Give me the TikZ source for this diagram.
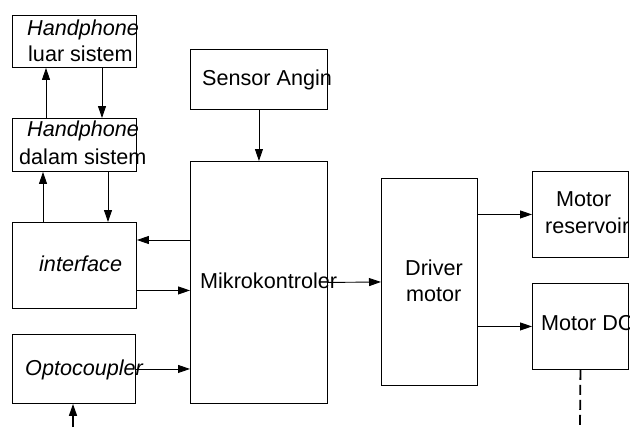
\documentclass[tikz,border=0pt]{standalone}
\usepackage{fontspec}
\setmainfont{Liberation Sans}
\usetikzlibrary{arrows.meta}
\begin{document}
\begin{tikzpicture}[x=1bp,y=-1bp,
 box/.style={draw=black, line width=0.9bp, inner sep=0pt, anchor=north west},
 lbl/.style={inner sep=0pt, anchor=base west, font=\fontsize{21.6bp}{26bp}\selectfont},
 ilbl/.style={inner sep=0pt, anchor=base west, font=\fontsize{21.6bp}{26bp}\selectfont\itshape},
 arr/.style={line width=0.9bp, -{Triangle[length=12bp,width=8bp]}},
 dashline/.style={line width=1.8bp, dash pattern=on 10bp off 5bp},
]
\useasboundingbox (0,0) rectangle (630,427);
% boxes
\node[box, minimum width=124bp, minimum height=52bp] (luar) at (12,15) {};
\node[box, minimum width=124bp, minimum height=53bp] (dalam) at (12,118) {};
\node[box, minimum width=124bp, minimum height=86bp] (iface) at (12,222) {};
\node[box, minimum width=123bp, minimum height=69bp] (opto) at (12,334) {};
\node[box, minimum width=137bp, minimum height=60bp] (sensor) at (190,49) {};
\node[box, minimum width=137bp, minimum height=242bp] (mikro) at (190,161) {};
\node[box, minimum width=96bp, minimum height=207bp] (driver) at (381,178) {};
\node[box, minimum width=96bp, minimum height=86bp] (resv) at (532,171) {};
\node[box, minimum width=96bp, minimum height=86bp] (dc) at (532,283) {};
% texts
\node[ilbl] (t1) at (27,35.5) {Handphone};
\node[lbl] (t2) at (28,61) {luar sistem};
\node[ilbl] (t3) at (27,136.5) {Handphone};
\node[lbl] (t4) at (19,164) {dalam sistem};
\node[ilbl] (t5) at (39,271.5) {interface};
\node[ilbl] (t6) at (25,375) {Optocoupler};
\node[lbl] (t7) at (202,85) {Sensor Angin};
\node[lbl] (t8) at (200,288) {Mikrokontroler};
\node[lbl] (t9) at (405,275) {Driver};
\node[lbl] (t10) at (406,301.5) {motor};
\node[lbl] (t11) at (556,206) {Motor};
\node[lbl] (t12) at (545,233) {reservoir};
\node[lbl] (t13) at (541,330.5) {Motor DC};
% connectors
\draw[arr] ([xshift=90bp]luar.south west) -- ([xshift=90bp]dalam.north west);
\draw[arr] ([xshift=34bp]dalam.north west) -- ([xshift=34bp]luar.south west);
\draw[arr] ([xshift=96bp]dalam.south west) -- ([xshift=96bp]iface.north west);
\draw[arr] ([xshift=31bp]iface.north west) -- ([xshift=31bp]dalam.south west);
\draw[arr] (sensor.south) -- (mikro.north);
\coordinate (m1) at ([yshift=-79bp]mikro.north west);
\draw[arr] (m1) -- (m1 -| iface.east);
\coordinate (i1) at ([yshift=-25bp]iface.east);
\draw[arr] (i1) -- (i1 -| mikro.west);
\draw[arr] (opto.east) -- (opto.east -| mikro.west);
\coordinate (optin) at (73,427);
\draw[arr, line width=1.5bp] (optin) -- (optin |- opto.south);
\draw[arr] (mikro.east) -- (driver.west);
\draw[arr] (resv.west -| driver.east) -- (resv.west);
\draw[arr] (dc.west -| driver.east) -- (dc.west);
\coordinate (dcend) at (580,427);
\draw[dashline] (dc.south) -- (dcend);
\end{tikzpicture}
\end{document}
